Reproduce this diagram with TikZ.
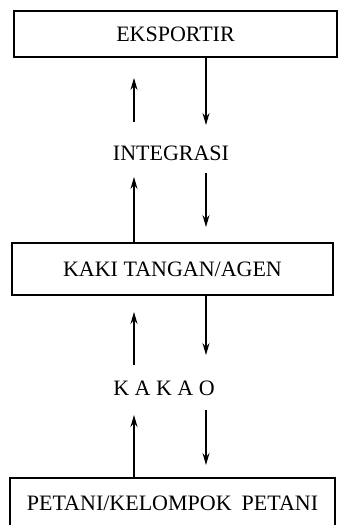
\documentclass[tikz,border=0pt]{standalone}
\usepackage{fontspec}
\setmainfont{Liberation Serif}
\usetikzlibrary{arrows.meta}
\tikzset{
  box/.style={draw, line width=1.4pt, inner sep=0pt, font=\fontsize{22}{24}\selectfont},
  lbl/.style={inner sep=0pt, font=\fontsize{22}{24}\selectfont},
  arr/.style={line width=1.1pt, -{Stealth[length=12pt,width=7pt,inset=4pt]}},
}
\begin{document}
\begin{tikzpicture}[x=1pt,y=-1pt]
\useasboundingbox (0,0) rectangle (339,525);
\fill[white] (0,0) rectangle (339,525);
\clip (0,0) rectangle (339,525);
% boxes
\node[box, minimum width=323pt, minimum height=46pt] (eks) at (175.5,34) {EKSPORTIR};
\node[lbl] (int) at (171,153) {INTEGRASI};
\node[box, minimum width=321pt, minimum height=52pt] (kaki) at (172.5,269) {KAKI TANGAN/AGEN};
\node[lbl] (kakao) at (164,388) {K A K A O};
\node[box, minimum width=325pt, minimum height=50pt] (pet) at (172.5,503) {PETANI/KELOMPOK\hspace{10pt}PETANI};
% free ends
\coordinate (d1) at (206,125);
\coordinate (u1a) at (134,122);
\coordinate (u1b) at (134,78);
\coordinate (d2a) at (206,173);
\coordinate (d2b) at (206,227);
\coordinate (u2b) at (134,177);
\coordinate (d3) at (206,355);
\coordinate (u3a) at (134,365);
\coordinate (u3b) at (134,312);
\coordinate (d4a) at (206,410);
\coordinate (d4b) at (206,465);
\coordinate (u4b) at (134,415);
% connectors
\draw[arr] (eks.south -| d1) -- (d1);
\draw[arr] (u1a) -- (u1b);
\draw[arr] (d2a) -- (d2b);
\draw[arr] (kaki.north -| u2b) -- (u2b);
\draw[arr] (kaki.south -| d3) -- (d3);
\draw[arr] (u3a) -- (u3b);
\draw[arr] (d4a) -- (d4b);
\draw[arr] (pet.north -| u4b) -- (u4b);
\end{tikzpicture}
\end{document}
